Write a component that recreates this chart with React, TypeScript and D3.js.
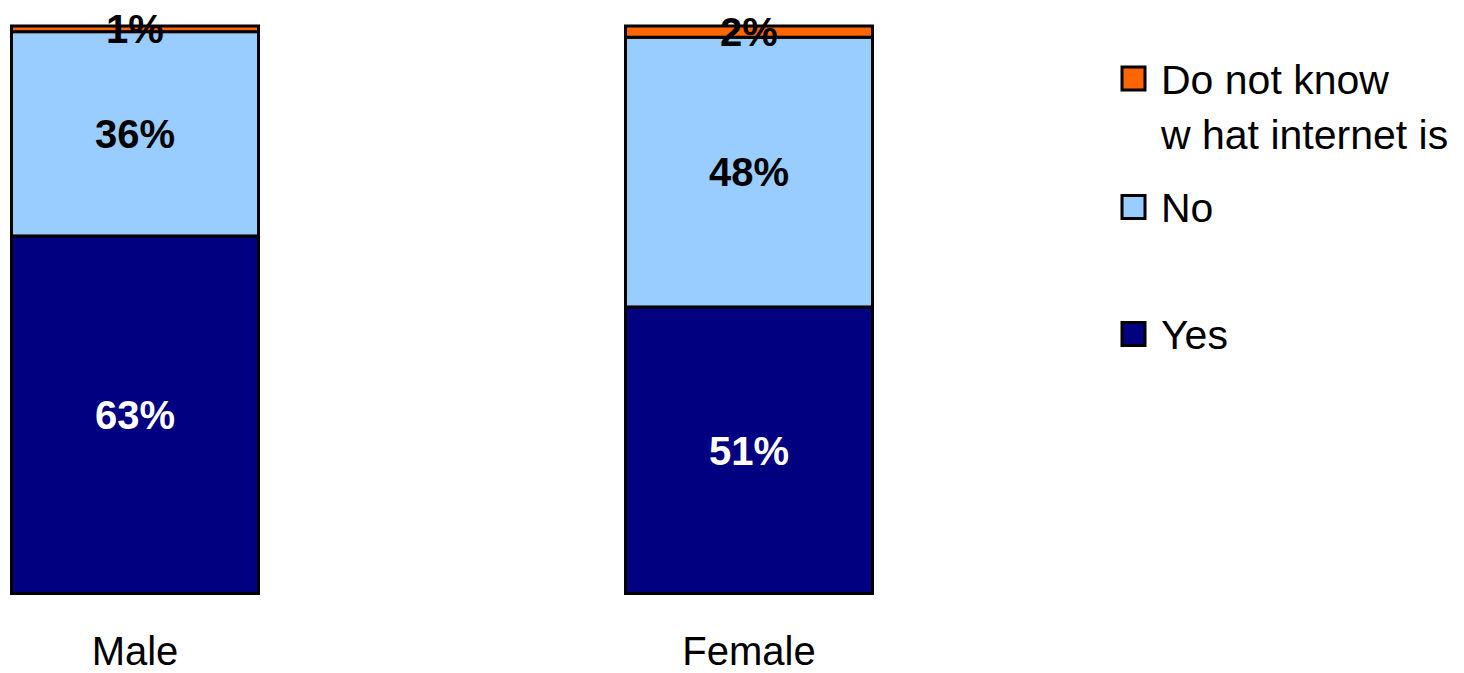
import React from "react";
import * as d3 from "d3";

// Survey answers by gender (percent of respondents)
const categories = ["Male", "Female"];
const seriesKeys = ["Yes", "No", "DoNotKnow"];
const seriesNames = ["Yes", "No", "Do not know|w hat internet is"];
const yesValues = [63, 51];
const noValues = [36, 48];
const dontKnowValues = [1, 2];

const colors: Record<string, string> = {
  Yes: "#000080",
  No: "#99CCFF",
  DoNotKnow: "#FF6600",
};
const labelColors: Record<string, string> = {
  Yes: "#FFFFFF",
  No: "#000000",
  DoNotKnow: "#000000",
};

const W = 1464;
const H = 673;
const FONT = "Arial, 'Liberation Sans', Helvetica, sans-serif";

export default function App() {
  const rows = categories.map((c, i) => ({
    category: c,
    Yes: yesValues[i],
    No: noValues[i],
    DoNotKnow: dontKnowValues[i],
  }));

  // 100% stacked: each column is normalised to its own total
  const stack = d3.stack<any>().keys(seriesKeys).offset(d3.stackOffsetExpand);
  const layers = stack(rows);

  const x = d3
    .scaleBand<string>()
    .domain(categories)
    .range([11.5, 872.5])
    .paddingInner(0.5977)
    .paddingOuter(0);
  const y = d3.scaleLinear().domain([0, 1]).range([593.5, 26]);

  // legend rows from top to bottom: Do not know, No, Yes
  const legendOrder = [2, 1, 0];
  const legendY = [78.5, 207, 334];

  return (
    <svg
      width={W}
      height={H}
      style={{ position: "absolute", left: 0, top: 0, background: "#fff" }}
      fontFamily={FONT}
    >
      {layers.map((layer) => (
        <g key={layer.key}>
          {layer.map((seg, i) => {
            const cat = categories[i];
            const y0 = y(seg[0]);
            const y1 = y(seg[1]);
            return (
              <rect
                key={cat}
                x={x(cat)}
                y={y1}
                width={x.bandwidth()}
                height={y0 - y1}
                fill={colors[layer.key]}
                stroke="#000"
                strokeWidth={3}
              />
            );
          })}
        </g>
      ))}
      {layers.map((layer) => (
        <g key={"lbl-" + layer.key}>
          {layer.map((seg, i) => {
            const cat = categories[i];
            const raw = (rows[i] as any)[layer.key];
            const cy = (y(seg[0]) + y(seg[1])) / 2;
            return (
              <text
                key={cat}
                x={(x(cat) as number) + x.bandwidth() / 2}
                y={cy}
                dy="0.36em"
                textAnchor="middle"
                fontSize={40}
                fontWeight="bold"
                fill={labelColors[layer.key]}
              >
                {raw}%
              </text>
            );
          })}
        </g>
      ))}
      {categories.map((c) => (
        <text
          key={c}
          x={(x(c) as number) + x.bandwidth() / 2}
          y={665}
          textAnchor="middle"
          fontSize={40}
          fill="#000"
        >
          {c}
        </text>
      ))}
      {legendOrder.map((si, row) => {
        const cy = legendY[row];
        const lines = seriesNames[si].split("|");
        return (
          <g key={seriesKeys[si]}>
            <rect
              x={1122}
              y={cy - 11.5}
              width={23}
              height={23}
              fill={colors[seriesKeys[si]]}
              stroke="#000"
              strokeWidth={3}
            />
            {lines.map((ln, j) => (
              <text
                key={j}
                x={1161}
                y={cy + 15 + j * 55}
                fontSize={41}
                fill="#000"
              >
                {ln}
              </text>
            ))}
          </g>
        );
      })}
    </svg>
  );
}
